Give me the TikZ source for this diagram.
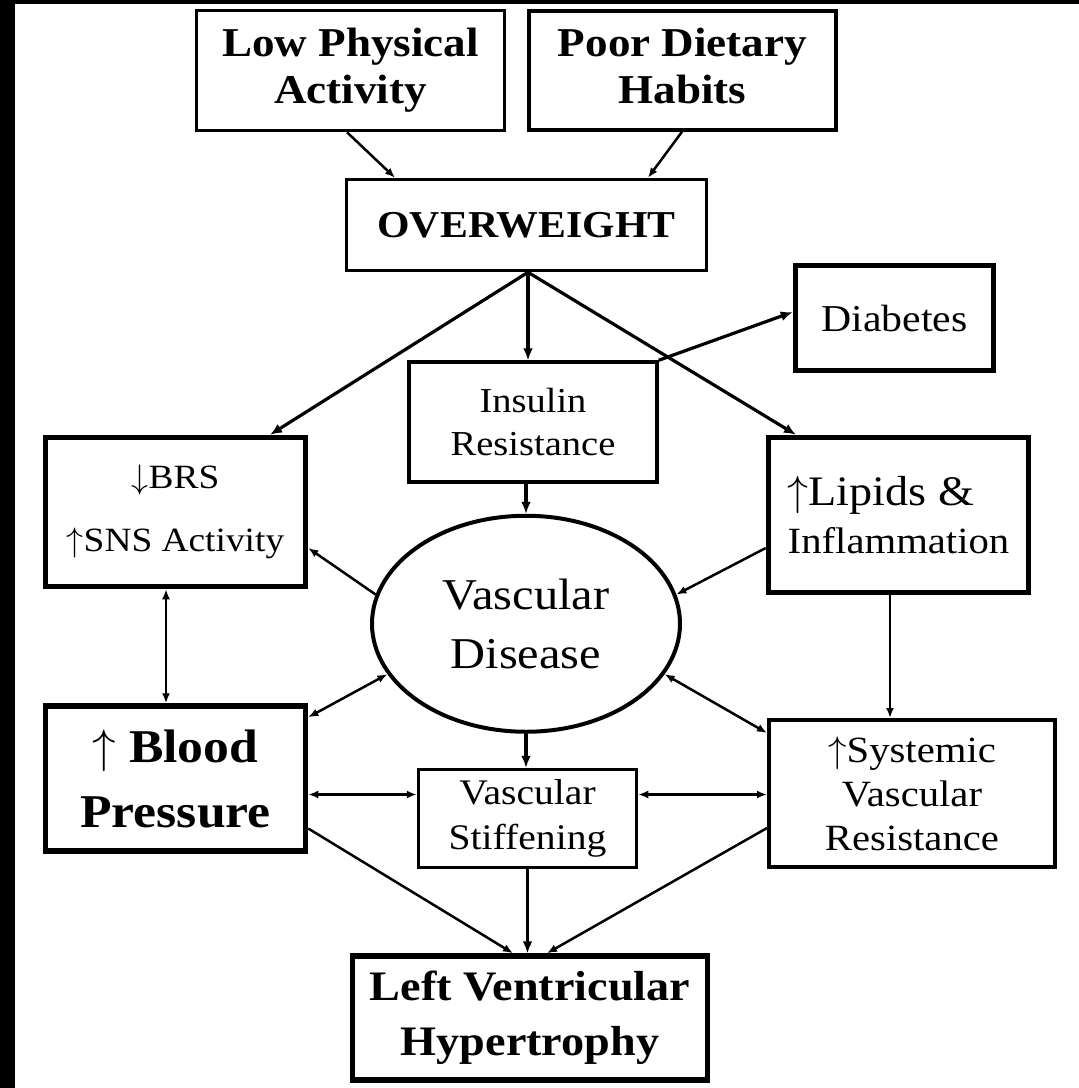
\RequirePackage{fix-cm}
\documentclass[tikz,border=0pt]{standalone}
\usepackage{fontspec}
\setmainfont{Liberation Serif}[FakeStretch=1.1]
\usepackage{tikz}
\usetikzlibrary{positioning, arrows.meta, shapes.geometric}
\tikzset{factor/.style={
        draw,
        rectangle,
        line width=3.5pt,
        inner sep=0pt,
        align=center
}}
\tikzset{keyfactor/.style={
        factor,
        line width=5.5pt
}}
\tikzset{disease/.style={
        draw,
        ellipse,
        line width=4pt,
        inner sep=0pt,
        align=center
}}
\tikzset{linkedge/.style={draw,line width=2.5pt,-{Latex[length=10pt,width=8pt]}}}
\tikzset{bothedge/.style={draw,line width=2.5pt,{Latex[length=10pt,width=8pt]}-{Latex[length=10pt,width=8pt]}}}
\tikzset{mainedge/.style={draw,line width=3.2pt,-{Latex[length=12pt,width=10pt]}}}

\begin{document}
\begin{tikzpicture}[x=1pt,y=-1pt,every node/.style={font=\fontsize{36}{44}\selectfont}]
\useasboundingbox (0,0) rectangle (1079,1088);
\fill (0,0) rectangle (15,1088);
\fill (0,0) rectangle (1079,4);

\node[factor, minimum width=308pt, minimum height=120pt, font=\bfseries\fontsize{41}{47}\selectfont] (lpa) at (350.5,70.5) {Low Physical\\Activity};
\node[factor, minimum width=307pt, minimum height=119pt, font=\bfseries\fontsize{41}{47}\selectfont, right=21pt of lpa] (pdh) {Poor Dietary\\Habits\vphantom{y}};
\node[factor, minimum width=360pt, minimum height=91pt, font=\bfseries\fontsize{38}{44}\selectfont] (ow) at (526.5,225) {OVERWEIGHT};
\node[factor, minimum width=248pt, minimum height=120pt, font=\fontsize{35}{43}\selectfont, below=88pt of ow, xshift=6.5pt] (ir) {Insulin\\Resistance};
\node[keyfactor, minimum width=198pt, minimum height=105pt, font=\fontsize{38}{44}\selectfont] (diab) at (894.5,318) {Diabetes};
\node[keyfactor, minimum width=260pt, minimum height=149pt, font=\fontsize{34}{63}\selectfont] (brs) at (175.5,512) {$\downarrow$BRS\\$\uparrow$SNS Activity};
\node[keyfactor, minimum width=260pt, minimum height=155pt, align=left, font=\fontsize{42}{48}\selectfont] (lip) at (898.5,515) {$\uparrow$Lipids \&\\{\fontsize{37}{48}\selectfont Inflammation}};
\node[disease, minimum width=308pt, minimum height=216pt, font=\fontsize{44}{59}\selectfont, below=30pt of ir, xshift=-7pt] (vd) {Vascular\\Disease};
\node[keyfactor, minimum width=260pt, minimum height=145pt, font=\bfseries\fontsize{47}{65}\selectfont, below=114pt of brs] (bp) {$\uparrow$ Blood\\Pressure};
\node[factor, minimum width=218pt, minimum height=98pt, font=\fontsize{36}{45}\selectfont, below=34pt of vd, xshift=1.5pt] (vs) {Vascular\\Stiffening};
\node[factor, line width=4pt, minimum width=286pt, minimum height=147pt, font=\fontsize{37}{44}\selectfont] (svr) at (912,793.5) {$\uparrow$Systemic\\Vascular\\Resistance};
\node[keyfactor, minimum width=355pt, minimum height=124pt, font=\bfseries\fontsize{42}{55}\selectfont, below=84pt of vs, xshift=2.5pt] (lvh) {Left Ventricular\\Hypertrophy};

\draw[linkedge] ([xshift=-3.5pt]lpa.south) -- ([xshift=-131.5pt]ow.north);
\draw[linkedge] ([xshift=-0.5pt]pdh.south) -- ([xshift=121.5pt]ow.north);
\draw[mainedge] ([xshift=1.5pt]ow.south) -- ([xshift=94.5pt]brs.north);
\draw[mainedge] ([xshift=1.5pt]ow.south) -- ([xshift=-5pt]ir.north);
\draw[mainedge] ([xshift=1.5pt]ow.south) -- ([xshift=-102.5pt]lip.north);
\draw[mainedge] (ir.north east) -- ([yshift=6pt]diab.west);
\draw[mainedge] ([xshift=-7pt]ir.south) -- (vd.north);
\draw[linkedge] (vd.169) -- ([yshift=-36pt]brs.east);
\draw[linkedge] ([yshift=-33pt]lip.west) -- (vd.11);
\draw[bothedge] ([xshift=-9.5pt]brs.south) -- ([xshift=-9.5pt]bp.north);
\draw[bothedge] ([yshift=-14pt]bp.north east) -- (vd.200);
\draw[mainedge] (vd.south) -- (vd.south |- vs.north);
\draw[bothedge] ([yshift=-16pt]bp.east) -- ([yshift=-16pt]bp.east -| vs.west);
\draw[bothedge] ([yshift=-16pt]bp.east -| vs.east) -- ([yshift=-16pt]bp.east -| svr.west);
\draw[bothedge] (vd.-20) -- ([yshift=-15pt]svr.north west);
\draw[linkedge] ([xshift=-22pt]svr.north |- lip.south) -- ([xshift=-22pt]svr.north);
\draw[linkedge] ([yshift=-50pt]bp.east) -- ([xshift=-17pt]lvh.north);
\draw[mainedge] (vs.south) -- (vs.south |- lvh.north);
\draw[linkedge] ([yshift=-34.5pt]svr.west) -- ([xshift=17pt]lvh.north);
\end{tikzpicture}
\end{document}
